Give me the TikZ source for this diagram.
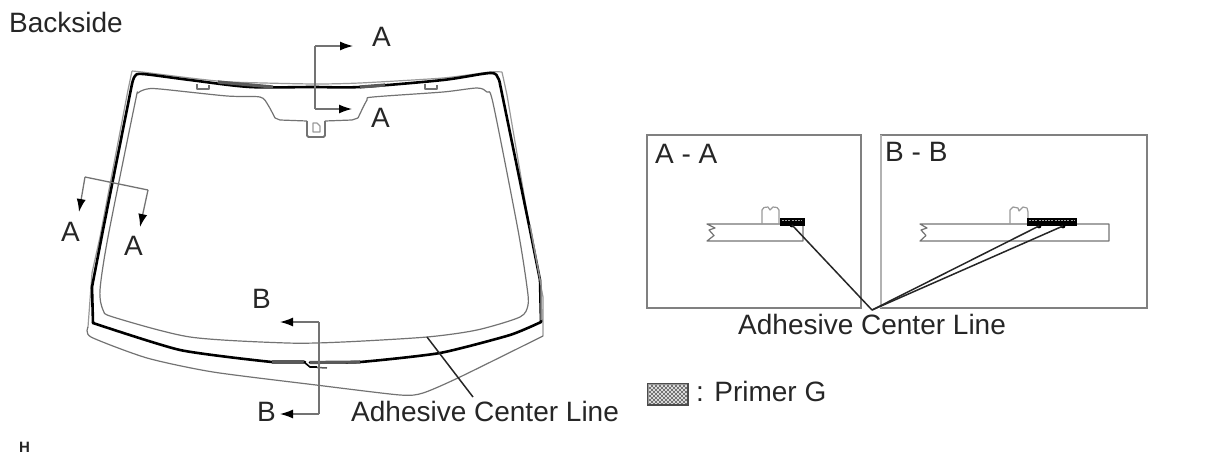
\documentclass[tikz,border=0pt]{standalone}
\usepackage{fontspec}
\setmainfont{Liberation Sans}
\usetikzlibrary{arrows.meta}
\definecolor{lg}{gray}{0.45}
\definecolor{lglight}{gray}{0.6}
\tikzset{
  thin line/.style={draw=lg,line width=1.2pt,line join=round},
  pale line/.style={draw=lglight,line width=1.2pt,line join=round},
  bond line/.style={draw=black,line width=2.6pt,line join=round,line cap=round},
  bond shade/.style={draw=black!65,line width=3.2pt},
  section line/.style={draw=lg,line width=1.3pt,line join=miter},
  section tip/.style={-{Latex[length=13pt,width=9pt,black]}},
  frame box/.style={draw=black!50,line width=1.7pt},
  leader/.style={draw=black!85,line width=1.5pt},
  label text/.style={font=\fontsize{28}{30}\selectfont,text=black!85,inner sep=0pt,anchor=base west},
  primer/.style={fill=black,draw=black,line width=.5pt},
  primer dash/.style={draw=black!35,line width=1.2pt,dash pattern=on 2pt off 1.2pt},
}
\begin{document}
\begin{tikzpicture}[x=1pt,y=-1pt]
\useasboundingbox (0,0) rectangle (1210,466);
% ---- outer glass edge
\draw[pale line] plot[smooth,tension=.35] coordinates {(132,71)(142,72)(190,78)(230,82)(313,84)(360,83)(443,78)(490,72)(502,72)};
\draw[pale line] (132,71)--(128,90)--(100,237)--(92,273)--(88,327);
\draw[pale line] (502,72)--(507,95)--(530,230)--(543,297)--(543,336);
\draw[thin line] plot[smooth,tension=.4] coordinates {(88,327)(91,337)(147,358)(213,372)(316,385)(400,395)(423,393)(460,377)(543,336)};
% ---- inner line
\draw[thin line] plot[smooth,tension=.45] coordinates {(275,118)(268,105)(260,97)(227,96)(160,89)(147,89)(138,93)(135,103)(108,237)(100,290)(103,310)(113,317)(190,337)(287,343)(343,342)(427,337)(477,330)(520,317)(528,305)(527,287)(518,230)(493,103)(487,92)(477,88)(443,92)(373,97)(367,100)(358,118)};
\draw[thin line] (275,118)--(280,120)--(307,121);
\draw[thin line] (358,118)--(352,120)--(325,121);
% ---- mirror bracket
\draw[draw=black!55,line width=1.8pt,rounded corners=1.5pt] (307,121)--(307,137)--(325,137)--(325,121);
\draw[pale line] (313,123)--(313,132)--(320,132)--(320,126)--(317,123)--cycle;
% ---- small tabs
\draw[thin line] (197,84)--(197,89)--(209,89)--(209,85);
\draw[thin line] (425,84)--(425,89)--(437,89)--(437,85);
% ---- adhesive line
\draw[bond line] plot[smooth,tension=.35] coordinates {(305,362)(272,362)(180,350)(93,323)};
\draw[bond line] (93,323)--(92,287)--(103,230)--(132,84);
\draw[bond line] plot[smooth,tension=.5] coordinates {(132,84)(135,76)(143,74)(190,80)(250,87)(313,87)(360,87)(443,80)(490,73)(498,78)(500,84)};
\draw[bond line] (500,84)--(530,230)--(540,280)--(541,322);
\draw[bond line] plot[smooth,tension=.35] coordinates {(541,322)(510,335)(440,353)(360,362)(310,362.5)};
\draw[bond shade] (218,82)--(273,87);
\draw[bond shade] (360,87)--(385,85);
\draw[bond shade] (272,362)--(304,362);
\draw[bond shade] (310,362.5)--(360,362);
\draw[draw=black!45,line width=1.5pt] (530,225)--(541,285)--(541,320);
\draw[draw=black,line width=1.6pt] (304,362)--(310,367)--(317,367);
\draw[draw=black!65,line width=1.5pt] (317,367.5)--(327,368);
% ---- section marks
\coordinate (ta) at (315,46); \coordinate (tb) at (315,109);
\coordinate (taE) at (353,46); \coordinate (tbE) at (352,109);
\draw[section line,section tip] (taE-|ta) -- (taE);
\draw[section line] (ta)--(tb);
\draw[section line,section tip] (tb) -- (tbE);
\coordinate (la) at (85,177); \coordinate (lb) at (148,190);
\coordinate (laE) at (79,212); \coordinate (lbE) at (140,227);
\draw[section line] (la)--(lb);
\draw[section line,section tip] (la) -- (laE);
\draw[section line,section tip] (lb) -- (lbE);
\coordinate (ba) at (319,322); \coordinate (bb) at (319,414);
\coordinate (baE) at (280,322); \coordinate (bbE) at (280,414);
\draw[section line] (ba)--(bb);
\draw[section line,section tip] (ba) -- (baE);
\draw[section line,section tip] (bb) -- (bbE);
% ---- labels
\node[label text] (back) at (9,32) {Backside};
\node[label text] (a1) at (372,46) {A};
\node[label text] (a2) at (371,127) {A};
\node[label text] (a3) at (61,241) {A};
\node[label text] (a4) at (124,255) {A};
\node[label text] (b1) at (252,308) {B};
\node[label text] (b2) at (257,421) {B};
\node[label text] (adh1) at (351,421) {Adhesive Center Line};
\node[label text] (adh2) at (738,334) {Adhesive Center Line};
\node[label text] (aa) at (655,163) {A - A};
\node[label text] (bbt) at (885,161) {B - B};
\node[label text] (pg) at (696,401) {: Primer G};
\node[inner sep=0pt,anchor=base west,font=\fontsize{15}{16}\selectfont\bfseries,text=black!85] (h) at (19,452) {H};
% ---- main leader
\coordinate (adhtip) at (427,337);
\coordinate (adhend) at (473,397);
\draw[leader] (adhtip)--(adhend);
% ---- A-A box
\node[frame box,minimum width=214pt,minimum height=173pt,inner sep=0pt] (boxa) at (754,221.5) {};
\draw[thin line] (707,224)--(803,224)--(803,241)--(707,241)--(714,235.5)--(709,230)--(715,228)--cycle;
\draw[pale line] (762,224)--(762,210)--(764,207.5)--(768,207)--(770,210)--(773,207)--(777,207.5)--(779,210)--(779,224);
\node[primer,minimum width=24pt,minimum height=7pt,inner sep=0pt] (pa) at (792,221.5) {};
\draw[primer dash] (782,220.5)--(802,220.5);
\coordinate (pat) at (792,225);
% ---- B-B box
\node[frame box,minimum width=266pt,minimum height=173pt,inner sep=0pt] (boxb) at (1014,221.5) {};
\draw[draw=black!30,line width=2.4pt] (881,135)--(881,308);
\draw[thin line] (920,224)--(1109,224)--(1109,241)--(920,241)--(926,235.5)--(921,230)--(927,228)--cycle;
\draw[pale line] (1010,224)--(1010,210)--(1013,207)--(1018,208)--(1019,211)--(1023,207)--(1027,208)--(1028,212)--(1028,224);
\node[primer,minimum width=49pt,minimum height=7pt,inner sep=0pt] (pb) at (1051.5,221.5) {};
\draw[primer dash] (1029,220.5)--(1074,220.5);
\coordinate (pbl) at (1039,226);
\coordinate (pbr) at (1063,226);
% ---- section leaders
\coordinate (hub) at (872,310);
\fill[black] (pat) circle (2.4pt) (pbl) circle (2.4pt) (pbr) circle (2.4pt);
\draw[leader] (pat)--(hub);
\draw[leader] (pbl)--(hub);
\draw[leader] (pbr)--(hub);
% ---- legend
\fill[black!40] (647.5,383.5) rectangle (688,405);
\foreach \i in {0,...,18}{\foreach \j in {0,...,9}{
  \pgfmathparse{int(mod(\i+\j,2))}
  \ifnum\pgfmathresult=0
    \fill[black!15] ({649+2*\i},{385+2*\j}) rectangle ({651+2*\i},{387+2*\j});
  \else
    \fill[black!55] ({649+2*\i},{385+2*\j}) rectangle ({651+2*\i},{387+2*\j});
  \fi
}}
\node[draw=black!70,line width=1.5pt,minimum width=40.5pt,minimum height=21.5pt,inner sep=0pt] (swatch) at (667.75,394.25) {};
\end{tikzpicture}
\end{document}
